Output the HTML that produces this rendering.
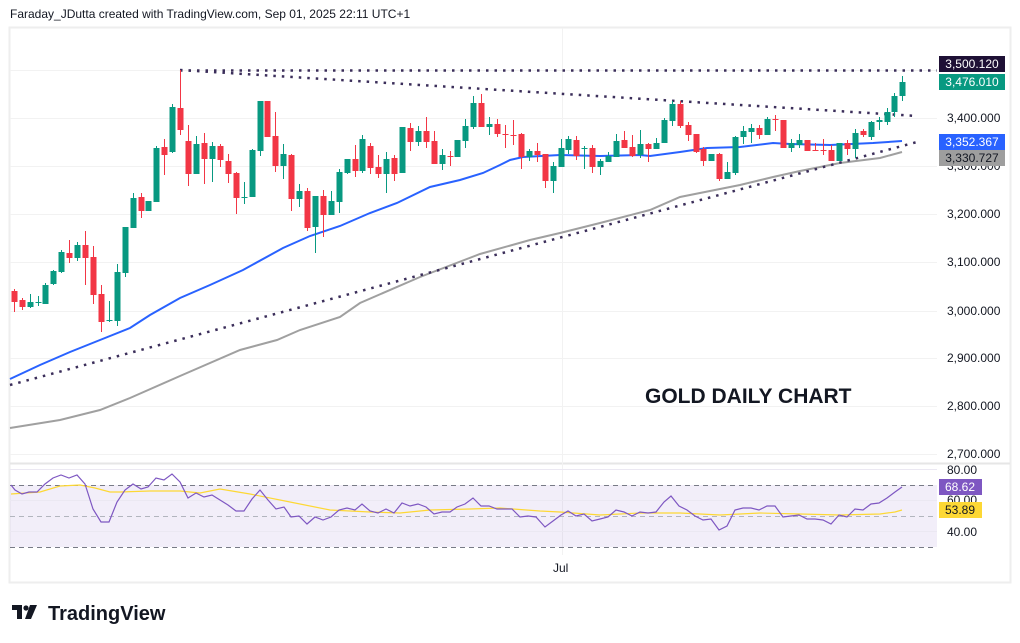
<!DOCTYPE html>
<html><head><meta charset="utf-8"><style>
body{margin:0;background:#fff;width:1020px;height:643px;overflow:hidden;font-family:"Liberation Sans",sans-serif}
svg{position:absolute;left:0;top:0}
</style></head><body>
<svg id="s" width="1020" height="643" xmlns="http://www.w3.org/2000/svg" font-family="Liberation Sans, sans-serif">
<rect x="0" y="0" width="1020" height="643" fill="#fff"/>
<text x="10" y="18" font-size="12" fill="#131722">Faraday_JDutta created with TradingView.com, Sep 01, 2025 22:11 UTC+1</text>
<rect x="9.5" y="27.5" width="1001" height="555" fill="none" stroke="#eeeeee" stroke-width="2"/>
<line x1="10" y1="463.5" x2="1010" y2="463.5" stroke="#e6e6e6" stroke-width="2"/>
<g stroke="#f2f2f2" stroke-width="1">
<line x1="10" y1="70.5" x2="937" y2="70.5"/>
<line x1="10" y1="118.5" x2="937" y2="118.5"/>
<line x1="10" y1="166.5" x2="937" y2="166.5"/>
<line x1="10" y1="214.5" x2="937" y2="214.5"/>
<line x1="10" y1="262.5" x2="937" y2="262.5"/>
<line x1="10" y1="311.5" x2="937" y2="311.5"/>
<line x1="10" y1="358.5" x2="937" y2="358.5"/>
<line x1="10" y1="406.5" x2="937" y2="406.5"/>
<line x1="10" y1="454.5" x2="937" y2="454.5"/>
<line x1="562.5" y1="28" x2="562.5" y2="555"/>
</g>
<!-- RSI panel -->
<rect x="10" y="485" width="927" height="62" fill="#7e57c2" fill-opacity="0.1"/>
<g stroke="#ebe8f2"><line x1="10" y1="500.5" x2="937" y2="500.5"/><line x1="10" y1="531.5" x2="937" y2="531.5"/><line x1="10" y1="469.5" x2="937" y2="469.5"/></g>
<g stroke="#787b86" stroke-dasharray="5,4" stroke-width="1"><line x1="10" y1="485.5" x2="937" y2="485.5"/><line x1="10" y1="547.5" x2="937" y2="547.5"/></g>
<line x1="10" y1="516.5" x2="937" y2="516.5" stroke="#b2b5be" stroke-dasharray="5,4"/>
<polyline fill="none" stroke="#fdd835" stroke-width="1.2" points="11,494 40,492 60,486 80,485 95,488 110,492 120,492 150,491 180,491 200,493 220,489 250,494 290,502 330,510 370,512 400,513 430,510 470,509 500,508 540,511 560,512 600,515 640,513 680,513 720,515 760,513 800,514 840,515 880,514 895,512 902,510"/>
<polyline fill="none" stroke="#7e57c2" stroke-width="1.2" points="11,485 15,490 22,494 29,492 37,492 45,484 53,478 61,475 69,478 77,475 85,484 93,509 101,522 109,522 117,502 125,490 133,484 141,489 148,487 156,478 164,480 172,474 180,482 188,498 196,493 204,497 212,495 220,500 228,505 236,511 244,511 252,499 260,490 268,500 276,509 284,507 291,517 299,516 307,524 315,517 323,520 331,517 339,510 347,508 355,510 362,504 370,511 378,513 386,509 394,513 402,503 410,506 418,504 426,507 434,514 442,512 450,512 457,507 465,504 473,498 481,506 489,506 497,509 500,509 512,509 520,517 528,516 536,517 545,527 553,521 561,515 568,511 576,516 584,514 592,521 600,519 608,517 616,510 624,512 632,516 640,512 648,513 656,512 664,502 671,496 679,506 687,510 695,516 703,520 711,519 719,530 727,526 735,510 743,508 751,508 759,510 767,506 775,506 783,517 791,516 799,515 807,519 815,519 823,520 831,524 839,515 847,517 855,509 863,510 871,504 879,503 887,498 895,492 902,487"/>
<!-- MAs -->
<polyline fill="none" stroke="#a0a0a0" stroke-width="2" points="10,428 60,420 100,410 130,398 180,376 240,350 277,340 300,330 340,317 360,303 420,277 480,254 530,240 560,233 600,223 650,210 680,197 740,185 773,177 800,171 840,163 880,158 902,152"/>
<polyline fill="none" stroke="#2962ff" stroke-width="2" points="10,379 40,365 70,352 100,340 130,328 150,315 180,298 210,285 243,270 283,248 310,236 340,226 370,213 397,203 430,187 460,180 483,173 500,165 510,160 523,157 560,155 600,156 640,155 650,156 680,152 707,148 740,147 773,143 790,144 830,145 873,143 902,141"/>
<!-- trendlines -->
<g stroke="#3b2e5a" stroke-width="2.5" stroke-dasharray="2.5,6" fill="none">
<line x1="180" y1="70.5" x2="937" y2="70.5"/>
<line x1="180" y1="70" x2="917" y2="116"/>
<line x1="10" y1="385" x2="917" y2="142"/>
</g>
<g id="c"></g>
<text x="645" y="403" font-size="21" font-weight="bold" fill="#131722">GOLD DAILY CHART</text>
<!-- axis -->
<g font-size="12" fill="#131722">
<text x="947" y="122">3,400.000</text>
<text x="947" y="170">3,300.000</text>
<text x="947" y="218">3,200.000</text>
<text x="947" y="266">3,100.000</text>
<text x="947" y="315">3,000.000</text>
<text x="947" y="362">2,900.000</text>
<text x="947" y="410">2,800.000</text>
<text x="947" y="458">2,700.000</text>
<text x="947" y="474">80.00</text>
<text x="947" y="504">60.00</text>
<text x="947" y="536">40.00</text>
<text x="553" y="572">Jul</text>
</g>
<rect x="939" y="56" width="66" height="16" fill="#1e1035"/>
<text x="972" y="68" font-size="12" fill="#fff" text-anchor="middle">3,500.120</text>
<rect x="939" y="74" width="66" height="16" fill="#089981"/>
<text x="972" y="86" font-size="12" fill="#fff" text-anchor="middle">3,476.010</text>
<rect x="939" y="134" width="66" height="16" fill="#2962ff"/>
<text x="972" y="146" font-size="12" fill="#fff" text-anchor="middle">3,352.367</text>
<rect x="939" y="150" width="66" height="16" fill="#9e9e9e"/>
<text x="972" y="162" font-size="12" fill="#131722" text-anchor="middle">3,330.727</text>
<rect x="939" y="479" width="43" height="16" fill="#7e57c2"/>
<text x="960" y="491" font-size="12" fill="#fff" text-anchor="middle">68.62</text>
<rect x="939" y="502" width="43" height="16" fill="#fdd835"/>
<text x="960" y="514" font-size="12" fill="#131722" text-anchor="middle">53.89</text>
<!-- logo -->
<g fill="#131722">
<rect x="12" y="605" width="10" height="5"/><rect x="17" y="605" width="5" height="14"/>
<circle cx="26" cy="608" r="2.6"/>
<polygon points="30,605 37,605 31,619 25,619"/>
</g>
<text x="48" y="620" font-size="20" font-weight="bold" fill="#131722">TradingView</text>
</svg>
<script>
var d=`14 r 291 302 289 312
22 r 300 307 298 310
30 g 302 307 294 308
38 g 302 302 296 306
45 g 285 304 283 304
53 g 271 284 270 285
61 g 252 272 250 273
69 r 253 258 240 263
77 g 245 258 242 261
85 r 245 258 231 285
93 r 257 295 246 304
101 r 294 322 285 332
109 g 320 320 301 322
117 g 272 321 264 326
125 g 227 273 227 277
133 g 198 228 193 228
141 r 197 211 193 218
148 g 201 211 201 211
156 g 148 202 146 202
164 r 147 155 139 175
172 g 107 152 104 153
180 r 108 130 70 135
188 r 141 174 125 186
196 g 144 174 136 174
204 r 143 159 133 184
212 g 146 159 142 182
220 r 146 160 144 167
228 r 161 174 154 183
236 r 173 198 172 214
244 g 197 197 182 204
252 g 150 197 149 197
260 g 101 151 101 156
267 r 101 137 101 137
275 r 136 166 112 172
283 g 154 166 144 179
291 r 155 199 154 211
299 g 191 199 184 207
307 r 191 228 188 231
315 g 196 227 196 253
323 r 196 215 190 237
331 g 201 215 191 215
339 g 172 202 169 213
347 g 159 173 159 174
355 r 159 171 145 177
362 g 139 171 135 173
370 r 146 168 143 174
378 r 167 174 155 178
386 g 159 174 152 193
394 r 158 174 155 181
402 g 127 173 127 173
410 r 128 142 123 151
418 g 131 142 126 146
426 r 131 142 117 148
434 r 141 164 131 164
442 g 155 164 149 170
450 r 156 156 151 166
457 g 140 157 140 157
465 g 126 141 119 148
473 g 103 127 96 129
481 r 103 127 94 127
489 g 124 127 117 135
497 r 124 134 119 137
505 r 134 134 125 148
513 r 135 135 120 145
521 r 134 157 133 169
529 g 151 157 149 161
537 r 151 155 143 162
545 r 154 181 154 188
553 g 166 181 162 193
561 g 148 167 139 167
568 g 139 150 136 154
576 r 140 156 136 160
584 g 148 148 146 169
592 r 148 167 145 173
600 g 161 167 159 175
608 g 156 162 152 162
616 g 141 157 134 157
624 r 140 148 131 148
632 r 147 156 135 157
640 g 144 155 130 158
648 r 144 149 143 162
656 g 143 149 138 149
664 g 120 143 118 143
672 g 104 121 101 126
680 r 104 126 101 128
688 r 125 135 122 141
696 r 134 152 134 153
703 r 149 161 147 166
711 g 154 161 154 161
719 r 154 179 153 181
727 g 172 179 162 179
735 g 137 173 136 175
743 g 131 137 126 144
751 g 128 132 124 143
759 r 128 135 125 139
767 g 119 135 117 135
775 r 119 119 115 131
783 r 120 148 120 148
791 g 143 148 139 152
799 g 140 145 134 148
807 r 140 151 140 151
815 r 150 150 143 151
823 r 150 150 139 155
831 r 150 161 145 161
839 g 143 161 143 161
847 r 143 149 140 155
855 g 133 149 129 158
863 r 131 135 129 137
871 g 122 137 121 140
879 g 120 122 117 130
887 g 112 122 108 125
894 g 96 112 93 117
902 g 82 96 76 101`;
var g=document.getElementById('c'),h='';
d.split('\n').forEach(function(l){var p=l.trim().split(/\s+/);var x=+p[0],c=p[1]=='g'?'#089981':'#f23645',bt=+p[2],bb=+p[3],wt=+p[4],wb=+p[5];
h+='<line x1="'+(x+0.5)+'" y1="'+wt+'" x2="'+(x+0.5)+'" y2="'+wb+'" stroke="'+c+'" stroke-width="1"/>';
h+='<rect x="'+(x-2.5)+'" y="'+bt+'" width="6" height="'+Math.max(1,bb-bt)+'" fill="'+c+'"/>';});
g.innerHTML=h;
</script>
</body></html>
